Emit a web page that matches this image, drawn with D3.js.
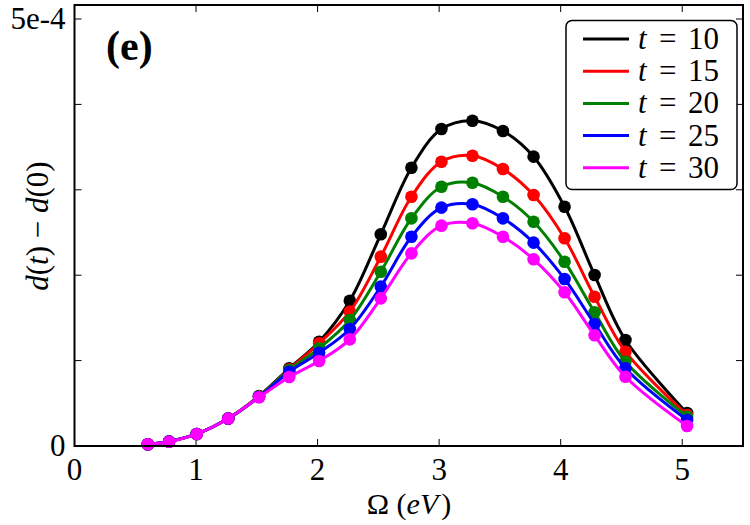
<!DOCTYPE html>
<html><head><meta charset="utf-8">
<script src="https://cdn.jsdelivr.net/npm/d3@7"></script>
<style>body{margin:0;background:#fff}svg{display:block}</style>
</head><body><svg id="c" width="750" height="525"></svg>
<script>
const omega = [0.603,0.778,1.006,1.265,1.518,1.767,2.013,2.265,2.52,2.772,3.019,3.274,3.525,3.777,4.032,4.279,4.533,5.04];
const t10 = [0.020,0.053,0.141,0.322,0.585,0.910,1.221,1.701,2.479,3.259,3.712,3.809,3.689,3.388,2.802,2.002,1.241,0.386];
const t15 = [0.020,0.053,0.141,0.322,0.580,0.898,1.203,1.573,2.217,2.919,3.329,3.399,3.244,2.939,2.432,1.748,1.104,0.363];
const t20 = [0.020,0.053,0.141,0.322,0.578,0.890,1.144,1.475,2.041,2.666,3.036,3.083,2.919,2.626,2.158,1.566,0.987,0.343];
const t25 = [0.020,0.052,0.141,0.322,0.574,0.870,1.092,1.370,1.866,2.451,2.791,2.830,2.666,2.381,1.956,1.429,0.910,0.304];
const t30 = [0.020,0.050,0.141,0.322,0.570,0.808,0.995,1.249,1.729,2.256,2.580,2.608,2.451,2.186,1.800,1.296,0.811,0.234];
const seriesNames = ["10","15","20","25","30"];
const seriesVals = [t10,t15,t20,t25,t30];
const colors = ["#000000","#ff0000","#008000","#0000ff","#ff00ff"];
const xTicks = [0,1,2,3,4,5];
const yTicks = [0,1,2,3,4,5]; // in units of 1e-4
const yTickLabels = {0:"0",5:"5e-4"};

const FF = "Liberation Serif";
const svg = d3.select("#c");
const L=74.5,R=743,T=5,B=446;
const x = d3.scaleLinear().domain([0,5.5]).range([L,R]);
const y = d3.scaleLinear().domain([0,5.164]).range([B,T]);

// ticks
const tl = 7;
const g = svg.append("g");
xTicks.forEach(v=>{
  g.append("line").attr("x1",x(v)).attr("x2",x(v)).attr("y1",B).attr("y2",B-tl).attr("stroke","#000").attr("stroke-width",1);
  g.append("line").attr("x1",x(v)).attr("x2",x(v)).attr("y1",T).attr("y2",T+tl).attr("stroke","#000").attr("stroke-width",1);
  g.append("text").attr("x",x(v)).attr("y",B+34).attr("text-anchor","middle").style("font-family",FF).style("font-size","31px").text(v);
});
yTicks.forEach(v=>{
  g.append("line").attr("x1",L).attr("x2",L+tl).attr("y1",y(v)).attr("y2",y(v)).attr("stroke","#000").attr("stroke-width",1);
  g.append("line").attr("x1",R).attr("x2",R-tl).attr("y1",y(v)).attr("y2",y(v)).attr("stroke","#000").attr("stroke-width",1);
  if (yTickLabels[v]!==undefined)
    g.append("text").attr("x",L-9).attr("y",y(v)+10).attr("text-anchor","end").style("font-family",FF).style("font-size","31px").text(yTickLabels[v]);
});

// lines
const line = d3.line().x(d=>x(d[0])).y(d=>y(d[1])).curve(d3.curveCatmullRom.alpha(0.5));
seriesVals.forEach((vals,i)=>{
  const pts = omega.map((o,j)=>[o,vals[j]]);
  svg.append("path").datum(pts).attr("d",line).attr("fill","none").attr("stroke",colors[i]).attr("stroke-width",3);
  svg.selectAll(null).data(pts).enter().append("circle")
    .attr("cx",d=>x(d[0])).attr("cy",d=>y(d[1])).attr("r",6.3).attr("fill",colors[i]);
});

// frame
svg.append("rect").attr("x",L).attr("y",T).attr("width",R-L).attr("height",B-T).attr("fill","none").attr("stroke","#000").attr("stroke-width",2);

// panel label
svg.append("text").attr("x",106).attr("y",60).style("font-family",FF).style("font-weight","bold").style("font-size","42px").text("(e)");

// axis labels
const xl = svg.append("text").attr("x",409).attr("y",514).attr("text-anchor","middle").style("font-family",FF).style("font-size","30px");
xl.append("tspan").text("Ω (");
xl.append("tspan").style("font-style","italic").text("eV");
xl.append("tspan").attr("dx",3).text(")");
const yl = svg.append("text").attr("transform","translate(48,226) rotate(-90)").attr("text-anchor","middle").style("font-family",FF).style("font-size","31px");
yl.append("tspan").style("font-style","italic").text("d");
yl.append("tspan").text("(");
yl.append("tspan").style("font-style","italic").text("t");
yl.append("tspan").text(") − ");
yl.append("tspan").style("font-style","italic").text("d");
yl.append("tspan").text("(0)");

// legend
const lg = svg.append("g");
lg.append("rect").attr("x",566).attr("y",20.5).attr("width",171).attr("height",169).attr("rx",6).attr("fill","#fff").attr("stroke","#000").attr("stroke-width",1.5);
seriesNames.forEach((n,i)=>{
  const yy = 39 + i*32.2;
  lg.append("line").attr("x1",583).attr("x2",629).attr("y1",yy).attr("y2",yy).attr("stroke",colors[i]).attr("stroke-width",3);
  const tx = lg.append("text").attr("y",yy+10).style("font-family",FF).style("font-size","31px");
  tx.append("tspan").attr("x",638).style("font-style","italic").text("t");
  tx.append("tspan").attr("x",659).text("=");
  tx.append("tspan").attr("x",688).text(n);
});
</script></body></html>
